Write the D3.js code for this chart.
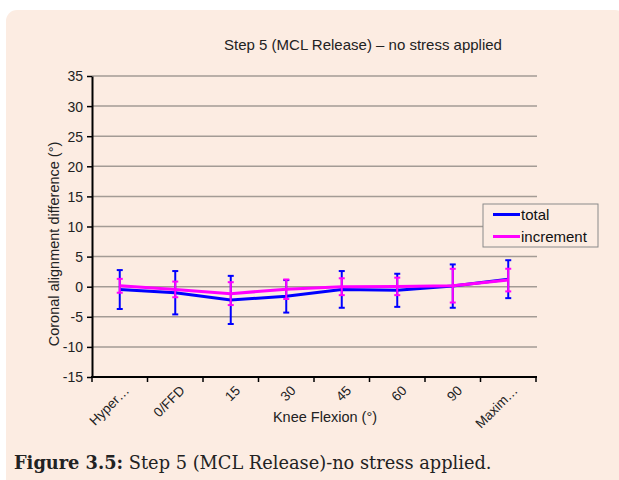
<!DOCTYPE html>
<html>
<head>
<meta charset="utf-8">
<script src="https://cdn.jsdelivr.net/npm/d3@7"></script>
<style>
  body { margin: 0; background: #fff; }
  text { font-family: "Liberation Sans", Arial, sans-serif; }
</style>
</head>
<body>
<svg id="chart" width="619" height="480"></svg>
<script>
// Chart data
var categories = ["Hyper\u2026", "0/FFD", "15", "30", "45", "60", "90", "Maxim\u2026"];
var totalMean = [-0.47, -1.0, -2.2, -1.6, -0.45, -0.6, 0.1, 1.25];
var totalErr = [3.23, 3.6, 4.0, 2.7, 3.05, 2.75, 3.6, 3.15];
var incrMean = [0.15, -0.45, -1.15, -0.42, 0.0, 0.05, 0.17, 1.1];
var incrErr = [1.15, 1.3, 1.9, 1.62, 1.4, 1.45, 2.8, 1.88];
var yTicks = [-15, -10, -5, 0, 5, 10, 15, 20, 25, 30, 35];

var series = [
  { name: "total", colour: "#0000ff", mean: totalMean, err: totalErr },
  { name: "increment", colour: "#ff00ff", mean: incrMean, err: incrErr }
];

var bgColour = "#fcece2";
var gridColour = "#a39b95";
var textColour = "#222";

var svg = d3.select("#chart");

// panel background
svg.append("rect")
  .attr("x", 6).attr("y", 10)
  .attr("width", 620).attr("height", 480)
  .attr("rx", 11)
  .attr("fill", bgColour);

var plotLeft = 92, plotRight = 536, plotTop = 76, plotBottom = 377;

var x = d3.scaleBand().domain(categories).range([plotLeft, plotRight]);
var y = d3.scaleLinear().domain([-15, 35]).range([plotBottom, plotTop]);

// gridlines
svg.append("g").selectAll("line")
  .data(yTicks.filter(function (t) { return t > -15; }))
  .enter().append("line")
  .attr("x1", plotLeft).attr("x2", plotRight + 1)
  .attr("y1", function (d) { return y(d); })
  .attr("y2", function (d) { return y(d); })
  .attr("stroke", gridColour)
  .attr("stroke-width", 1.5);

// y axis
var yAxis = svg.append("g")
  .attr("transform", "translate(" + plotLeft + ",0)")
  .call(d3.axisLeft(y).tickValues(yTicks).tickSize(5).tickSizeOuter(0)
    .tickFormat(function (d) { return String(d); }));
yAxis.select(".domain").attr("stroke", "#000").attr("stroke-width", 2);
yAxis.selectAll(".tick line").attr("stroke", "#000").attr("stroke-width", 1.5);
yAxis.selectAll(".tick text")
  .attr("font-size", 14).attr("fill", textColour)
  .attr("x", -9).attr("dy", "0.35em");

// x axis, ticks at category boundaries
var xAxisG = svg.append("g").attr("transform", "translate(0," + plotBottom + ")");
xAxisG.append("line")
  .attr("x1", plotLeft - 1).attr("x2", plotRight + 1)
  .attr("stroke", "#000").attr("stroke-width", 2);
var bounds = categories.map(function (c) { return x(c); }).concat([x(categories[categories.length - 1]) + x.bandwidth()]);
xAxisG.selectAll("line.tk")
  .data(bounds)
  .enter().append("line")
  .attr("class", "tk")
  .attr("x1", function (d) { return d; }).attr("x2", function (d) { return d; })
  .attr("y1", 0).attr("y2", 5)
  .attr("stroke", "#000").attr("stroke-width", 1.5);
xAxisG.selectAll("text")
  .data(categories)
  .enter().append("text")
  .attr("transform", function (d) {
    return "translate(" + (x(d) + x.bandwidth() / 2 + 7) + ",11) rotate(-45)";
  })
  .attr("text-anchor", "end")
  .attr("dy", "0.35em")
  .attr("font-size", 13.5)
  .attr("fill", textColour)
  .text(function (d) { return d; });

// series: lines, then error bars
series.forEach(function (s) {
  var pts = categories.map(function (c, i) {
    return { x: x(c) + x.bandwidth() / 2, m: s.mean[i], e: s.err[i] };
  });
  var g = svg.append("g");
  g.append("path")
    .datum(pts)
    .attr("d", d3.line().x(function (d) { return d.x; }).y(function (d) { return y(d.m); }))
    .attr("fill", "none")
    .attr("stroke", s.colour)
    .attr("stroke-width", 3);
  var eb = g.selectAll("g.eb").data(pts).enter().append("g").attr("class", "eb");
  eb.append("line")
    .attr("x1", function (d) { return d.x; }).attr("x2", function (d) { return d.x; })
    .attr("y1", function (d) { return y(d.m + d.e); })
    .attr("y2", function (d) { return y(d.m - d.e); })
    .attr("stroke", s.colour).attr("stroke-width", 2);
  [1, -1].forEach(function (sign) {
    eb.append("line")
      .attr("x1", function (d) { return d.x - 3; }).attr("x2", function (d) { return d.x + 3; })
      .attr("y1", function (d) { return y(d.m + sign * d.e); })
      .attr("y2", function (d) { return y(d.m + sign * d.e); })
      .attr("stroke", s.colour).attr("stroke-width", 2);
  });
});

// legend
var legend = svg.append("g").attr("transform", "translate(483,204)");
legend.append("rect")
  .attr("width", 115).attr("height", 43)
  .attr("fill", bgColour)
  .attr("stroke", "#8a8a8a").attr("stroke-width", 1);
series.forEach(function (s, i) {
  var yy = 10.5 + i * 22;
  legend.append("line")
    .attr("x1", 10).attr("x2", 37)
    .attr("y1", yy).attr("y2", yy)
    .attr("stroke", s.colour).attr("stroke-width", 3);
  legend.append("text")
    .attr("x", 38).attr("y", yy).attr("dy", "0.35em")
    .attr("font-size", 15).attr("fill", "#111")
    .text(s.name);
});

// titles
svg.append("text")
  .attr("x", 363).attr("y", 50)
  .attr("text-anchor", "middle")
  .attr("font-size", 15).attr("fill", textColour)
  .text("Step 5 (MCL Release) \u2013 no stress applied");

svg.append("text")
  .attr("x", 325).attr("y", 422)
  .attr("text-anchor", "middle")
  .attr("font-size", 14.5).attr("fill", textColour)
  .text("Knee Flexion (\u00b0)");

svg.append("text")
  .attr("transform", "translate(59,244) rotate(-90)")
  .attr("text-anchor", "middle")
  .attr("font-size", 14.5).attr("fill", textColour)
  .text("Coronal alignment difference (\u00b0)");

// caption
var cap = svg.append("text")
  .attr("x", 14).attr("y", 469)
  .style("font-family", "'DejaVu Serif', serif")
  .attr("font-size", 17.8).attr("fill", textColour);
cap.append("tspan").attr("font-weight", "bold").text("Figure 3.5:");
cap.append("tspan").text(" Step 5 (MCL Release)-no stress applied.");
</script>
</body>
</html>
